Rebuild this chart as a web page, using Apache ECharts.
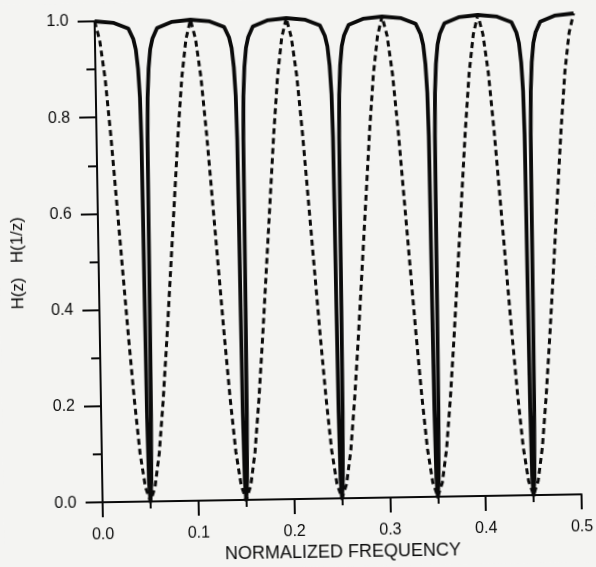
<!DOCTYPE html>
<html>
<head>
<meta charset="utf-8">
<script src="https://cdn.jsdelivr.net/npm/echarts@6/dist/echarts.min.js"></script>
<style>
  html, body { margin: 0; padding: 0; background: #f4f4f2; }
  #container2 { width: 596px; height: 567px; transform: rotate(-0.95deg); transform-origin: 50% 50%; }
</style>
</head>
<body>
<div id="container2"></div>
<script>
// tick labels
var freqTicks = [0.0, 0.1, 0.2, 0.3, 0.4, 0.5];
var gainTicks = [0.0, 0.2, 0.4, 0.6, 0.8, 1.0];

// solid curve: H(z)H(1/z), sharp notches
var solidFreq = [
  0,
  0.02, 0.035, 0.04, 0.0425, 0.0445, 0.046, 0.0468, 0.0471, 0.0474, 0.0479, 0.0488, 0.05,
  0.0512, 0.0521, 0.0526, 0.0529, 0.0532, 0.054, 0.0555, 0.0575, 0.06, 0.065, 0.08,
  0.1,
  0.12, 0.135, 0.14, 0.1425, 0.1445, 0.146, 0.1468, 0.1471, 0.1474, 0.1479, 0.1488, 0.15,
  0.1512, 0.1521, 0.1526, 0.1529, 0.1532, 0.154, 0.1555, 0.1575, 0.16, 0.165, 0.18,
  0.2,
  0.22, 0.235, 0.24, 0.2425, 0.2445, 0.246, 0.2468, 0.2471, 0.2474, 0.2479, 0.2488, 0.25,
  0.2512, 0.2521, 0.2526, 0.2529, 0.2532, 0.254, 0.2555, 0.2575, 0.26, 0.265, 0.28,
  0.3,
  0.32, 0.335, 0.34, 0.3425, 0.3445, 0.346, 0.3468, 0.3471, 0.3474, 0.3479, 0.3488, 0.35,
  0.3512, 0.3521, 0.3526, 0.3529, 0.3532, 0.354, 0.3555, 0.3575, 0.36, 0.365, 0.38,
  0.4,
  0.42, 0.435, 0.44, 0.4425, 0.4445, 0.446, 0.4468, 0.4471, 0.4474, 0.4479, 0.4488, 0.45,
  0.4512, 0.4521, 0.4526, 0.4529, 0.4532, 0.454, 0.4555, 0.4575, 0.46, 0.465, 0.48,
  0.5
];
var solidGain = [
  1.0,
  0.996, 0.984, 0.962, 0.94, 0.9, 0.84, 0.75, 0.6, 0.4, 0.18, 0.04, 0,
  0.04, 0.18, 0.4, 0.6, 0.75, 0.84, 0.9, 0.94, 0.962, 0.984, 0.996,
  1.0,
  0.996, 0.984, 0.962, 0.94, 0.9, 0.84, 0.75, 0.6, 0.4, 0.18, 0.04, 0,
  0.04, 0.18, 0.4, 0.6, 0.75, 0.84, 0.9, 0.94, 0.962, 0.984, 0.996,
  1.0,
  0.996, 0.984, 0.962, 0.94, 0.9, 0.84, 0.75, 0.6, 0.4, 0.18, 0.04, 0,
  0.04, 0.18, 0.4, 0.6, 0.75, 0.84, 0.9, 0.94, 0.962, 0.984, 0.996,
  1.0,
  0.996, 0.984, 0.962, 0.94, 0.9, 0.84, 0.75, 0.6, 0.4, 0.18, 0.04, 0,
  0.04, 0.18, 0.4, 0.6, 0.75, 0.84, 0.9, 0.94, 0.962, 0.984, 0.996,
  1.0,
  0.996, 0.984, 0.962, 0.94, 0.9, 0.84, 0.75, 0.6, 0.4, 0.18, 0.04, 0,
  0.04, 0.18, 0.4, 0.6, 0.75, 0.84, 0.9, 0.94, 0.962, 0.984, 0.996,
  1.0
];

// dashed curve
var dashedFreq = [
  0, 0.005, 0.01, 0.015, 0.02, 0.025, 0.03, 0.035, 0.04, 0.045,
  0.05, 0.055, 0.06, 0.065, 0.07, 0.075, 0.08, 0.085, 0.09, 0.095,
  0.1, 0.105, 0.11, 0.115, 0.12, 0.125, 0.13, 0.135, 0.14, 0.145,
  0.15, 0.155, 0.16, 0.165, 0.17, 0.175, 0.18, 0.185, 0.19, 0.195,
  0.2, 0.205, 0.21, 0.215, 0.22, 0.225, 0.23, 0.235, 0.24, 0.245,
  0.25, 0.255, 0.26, 0.265, 0.27, 0.275, 0.28, 0.285, 0.29, 0.295,
  0.3, 0.305, 0.31, 0.315, 0.32, 0.325, 0.33, 0.335, 0.34, 0.345,
  0.35, 0.355, 0.36, 0.365, 0.37, 0.375, 0.38, 0.385, 0.39, 0.395,
  0.4, 0.405, 0.41, 0.415, 0.42, 0.425, 0.43, 0.435, 0.44, 0.445,
  0.45, 0.455, 0.46, 0.465, 0.47, 0.475, 0.48, 0.485, 0.49, 0.495,
  0.5
];
var dashedGain = [
  1.0, 0.96, 0.88, 0.76, 0.62, 0.48, 0.34, 0.21, 0.10, 0.03,
  0.0, 0.03, 0.10, 0.21, 0.34, 0.48, 0.62, 0.76, 0.88, 0.96,
  1.0, 0.96, 0.88, 0.76, 0.62, 0.48, 0.34, 0.21, 0.10, 0.03,
  0.0, 0.03, 0.10, 0.21, 0.34, 0.48, 0.62, 0.76, 0.88, 0.96,
  1.0, 0.96, 0.88, 0.76, 0.62, 0.48, 0.34, 0.21, 0.10, 0.03,
  0.0, 0.03, 0.10, 0.21, 0.34, 0.48, 0.62, 0.76, 0.88, 0.96,
  1.0, 0.96, 0.88, 0.76, 0.62, 0.48, 0.34, 0.21, 0.10, 0.03,
  0.0, 0.03, 0.10, 0.21, 0.34, 0.48, 0.62, 0.76, 0.88, 0.96,
  1.0, 0.96, 0.88, 0.76, 0.62, 0.48, 0.34, 0.21, 0.10, 0.03,
  0.0, 0.03, 0.10, 0.21, 0.34, 0.48, 0.62, 0.76, 0.88, 0.96,
  1.0
];

function pairs(xs, ys) {
  return xs.map(function (x, i) { return [x, ys[i]]; });
}

var ink = '#0a0a0a';
var font = 'Liberation Sans, Arial, sans-serif';

var myChart = echarts.init(document.getElementById('container2'));
myChart.setOption({
  backgroundColor: '#f4f4f2',
  animation: false,
  grid: { left: 99, right: 18, top: 18, bottom: 67 },
  xAxis: {
    type: 'value',
    min: freqTicks[0],
    max: freqTicks[freqTicks.length - 1],
    interval: 0.1,
    name: 'NORMALIZED FREQUENCY',
    nameLocation: 'middle',
    nameGap: 44,
    nameTextStyle: { color: ink, fontSize: 18, fontFamily: font },
    axisLine: { lineStyle: { color: ink, width: 2 } },
    axisTick: { length: 15, lineStyle: { color: ink, width: 2 } },
    minorTick: { show: true, splitNumber: 2, length: 7, lineStyle: { color: ink, width: 2 } },
    splitLine: { show: false },
    axisLabel: {
      margin: 24, color: ink, fontSize: 16, fontFamily: font,
      formatter: function (v) { return v.toFixed(1); }
    }
  },
  yAxis: {
    type: 'value',
    min: gainTicks[0],
    max: gainTicks[gainTicks.length - 1],
    interval: 0.2,
    name: 'H(z)   H(1/z)',
    nameLocation: 'middle',
    nameGap: 72,
    nameTextStyle: { color: ink, fontSize: 17, fontFamily: font },
    axisLine: { show: true, lineStyle: { color: ink, width: 2 } },
    axisTick: { show: true, length: 17, lineStyle: { color: ink, width: 2 } },
    minorTick: { show: true, splitNumber: 2, length: 9, lineStyle: { color: ink, width: 2 } },
    splitLine: { show: false },
    axisLabel: {
      margin: 26, color: ink, fontSize: 16, fontFamily: font,
      formatter: function (v) { return v.toFixed(1); }
    }
  },
  series: [
    {
      name: 'solid',
      type: 'line',
      symbol: 'none',
      smooth: false,
      lineStyle: { color: ink, width: 3.8, join: 'round' },
      data: pairs(solidFreq, solidGain)
    },
    {
      name: 'dashed',
      type: 'line',
      symbol: 'none',
      smooth: false,
      lineStyle: { color: ink, width: 3, type: [6, 4] },
      data: pairs(dashedFreq, dashedGain)
    }
  ]
});
</script>
</body>
</html>
